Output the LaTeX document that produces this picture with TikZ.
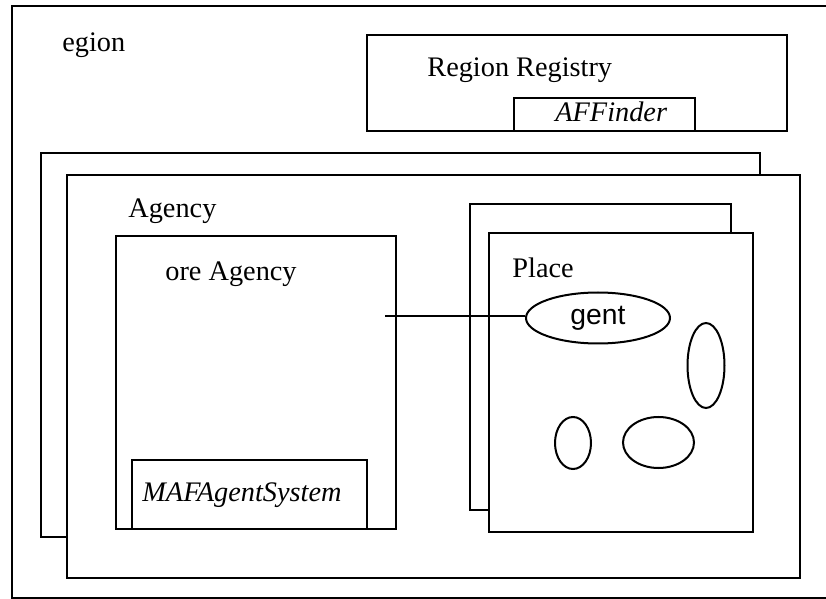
\documentclass[tikz,border=0pt]{standalone}
\usepackage{fontspec}
\setmainfont{Liberation Serif}
\newfontfamily\arialfont{Liberation Sans}
\usetikzlibrary{shapes.geometric}
\tikzset{
  box/.style={draw, line width=1pt, fill=white},
  txt/.style={anchor=base west, inner sep=0pt, font=\fontsize{14.15}{17}\selectfont},
  blob/.style={draw, ellipse, line width=1pt, inner sep=0pt}
}
\begin{document}
\begin{tikzpicture}[x=0.5pt,y=0.5pt,yscale=-1,xscale=1]
\useasboundingbox (0,0) rectangle (826,599);

%Region frame
\draw [line width=1pt] (830,6) -- (12,6) -- (12,598) -- (830,598) ;
% Text Node
\node (region) [txt] at (62,52) {egion};

%Region Registry
\draw [box] (367,35) rectangle (787,131) ;
\node (registry) [txt] at (427,77) {Region Registry};
\draw [box] (514,98) rectangle (695,131) ;
\node (finder) [txt] at (555,122) {\itshape AFFinder};

%Agency boxes
\draw [box] (41,153) rectangle (760,537) ;
\draw [box] (67,175) rectangle (800,578) ;
\node (agency) [txt] at (128,218) {Agency};

%Core Agency
\draw [box] (116,236) rectangle (396,529) ;
\node (core) [txt] at (165,280) {ore Agency};
\draw [box] (132,460) rectangle (367,529) ;
\node (mafsys) [txt] at (142,502) {\itshape MAFAgentSystem};

%Place boxes
\draw [box] (470,204) rectangle (731,510) ;
\draw [box] (489,233) rectangle (753,532) ;
\node (place) [txt] at (512,278) {Place};

%Agents
\node (gent) [blob, minimum width=72pt, minimum height=25.5pt, font=\arialfont\fontsize{14.15}{17}\selectfont] at (598,318) {gent};
\node (agtall) [blob, minimum width=18.5pt, minimum height=42.5pt] at (706,365.5) {};
\node (agsmall) [blob, minimum width=18pt, minimum height=26pt] at (573,443) {};
\node (agwide) [blob, minimum width=35.5pt, minimum height=25.5pt] at (658.5,442.5) {};

%Straight Lines
\coordinate (coreport) at (385,316);
\draw [line width=1.4pt] (coreport) -- (gent.west |- coreport) ;

\end{tikzpicture}
\end{document}
